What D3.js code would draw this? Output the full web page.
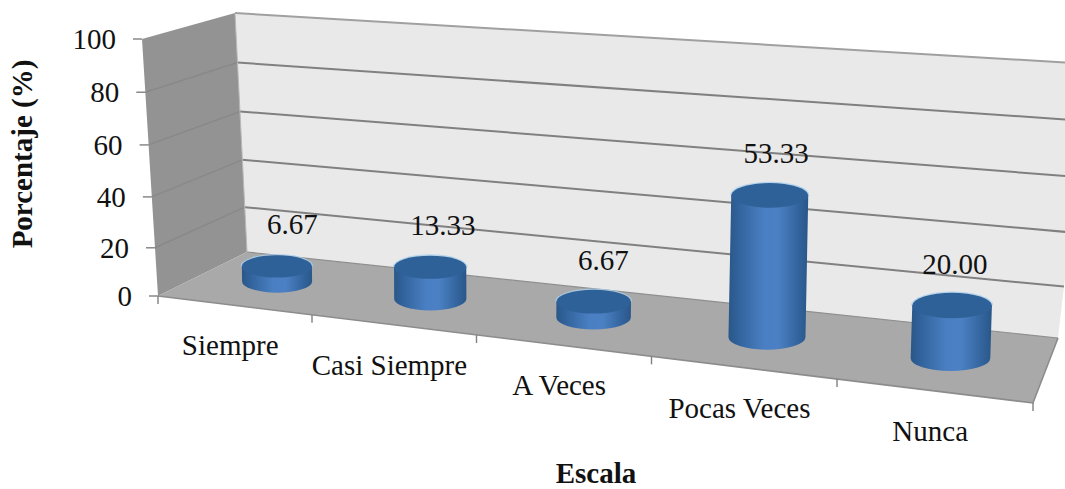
<!DOCTYPE html>
<html>
<head>
<meta charset="utf-8">
<script src="https://cdn.jsdelivr.net/npm/d3@7"></script>
<style>
  html, body { margin: 0; padding: 0; background: #fff; overflow: hidden; }
  svg { display: block; }
  text { font-family: "Liberation Serif", "Times New Roman", serif; fill: #111; font-size: 29px; }
</style>
</head>
<body>
<svg id="chart" width="1065" height="489"></svg>
<script>
// Chart data
const categories = ["Siempre", "Casi Siempre", "A Veces", "Pocas Veces", "Nunca"];
const percentages = [6.67, 13.33, 6.67, 53.33, 20.0];
const percentLabels = ["6.67", "13.33", "6.67", "53.33", "20.00"];
const valueTicks = [0, 20, 40, 60, 80, 100];

const svg = d3.select("#chart");
const nCat = categories.length;

// Corners of the 3D box as they land on screen
const box = {
  frontLeftBottom: [158, 296], frontLeftTop: [142, 39],
  backLeftBottom: [247, 252], backLeftTop: [235, 13],
  frontRightBottom: [1033, 403], frontRightTop: [1060, 105],
  backRightBottom: [1058, 338], backRightTop: [1090, 64]
};

// Normalised scales along the box; the power and the quadratic term give foreshortening
const catLinear = d3.scaleLinear().domain([0, nCat]).range([0, 1]);
const catFraction = c => { const t = catLinear(c); return t * (0.85 + 0.15 * t); };
const valScale = d3.scalePow().exponent(1.04).domain([0, 100]).range([0, 1]);

const mix = (a, b, t) => [a[0] + (b[0] - a[0]) * t, a[1] + (b[1] - a[1]) * t];

// Maps (category position, value, depth) to a screen point by trilinear blending
function project(c, v, depth) {
  const s = catFraction(c), h = valScale(v);
  const fb = mix(box.frontLeftBottom, box.frontRightBottom, s);
  const ft = mix(box.frontLeftTop, box.frontRightTop, s);
  const bb = mix(box.backLeftBottom, box.backRightBottom, s);
  const bt = mix(box.backLeftTop, box.backRightTop, s);
  return mix(mix(fb, ft, h), mix(bb, bt, h), depth);
}

const poly = pts => "M" + pts.map(p => p.join(",")).join("L") + "Z";
const segment = d3.line();

// Gradients
const defs = svg.append("defs");
const sideGrad = defs.append("linearGradient").attr("id", "cylSide")
  .attr("x1", "0%").attr("x2", "100%").attr("y1", "0%").attr("y2", "0%");
[[0, "#2a5788"], [0.12, "#31629b"], [0.45, "#4a80c3"], [0.62, "#4b81c4"], [0.88, "#32639c"], [1, "#2a5788"]]
  .forEach(([o, c]) => sideGrad.append("stop").attr("offset", o).attr("stop-color", c));

// Walls and floor
const walls = svg.append("g");
walls.append("path")
  .attr("d", poly([project(0, 0, 1), project(nCat, 0, 1), project(nCat, 100, 1), project(0, 100, 1)]))
  .attr("fill", "#e9e9e9");
walls.append("path")
  .attr("d", poly([project(0, 0, 0), project(0, 0, 1), project(0, 100, 1), project(0, 100, 0)]))
  .attr("fill", "#939393");
walls.append("path")
  .attr("d", poly([project(0, 0, 0), project(nCat, 0, 0), project(nCat, 0, 1), project(0, 0, 1)]))
  .attr("fill", "#a9a9a9");

// Gridlines on the back and side walls
const gridSteps = valueTicks.filter(v => v > 0);
svg.append("g").selectAll("path").data(gridSteps).join("path")
  .attr("d", v => segment([project(0, v, 1), project(nCat, v, 1)]))
  .attr("stroke", v => v === 100 ? "#a0a0a0" : "#808080")
  .attr("stroke-width", 2).attr("fill", "none");
svg.append("g").selectAll("path").data(gridSteps.filter(v => v < 100)).join("path")
  .attr("d", v => segment([project(0, v, 0), project(0, v, 1)]))
  .attr("stroke", "#898989").attr("stroke-width", 1.5).attr("fill", "none");

// Box edges
svg.append("path")
  .attr("d", segment([project(0, 0, 0), project(nCat, 0, 0), project(nCat, 0, 1)]))
  .attr("fill", "none").attr("stroke", "#8c8c8c").attr("stroke-width", 1.6);
svg.append("path")
  .attr("d", segment([project(0, 0, 1), project(nCat, 0, 1)]))
  .attr("fill", "none").attr("stroke", "#8f8f8f").attr("stroke-width", 1.2);
svg.append("path")
  .attr("d", segment([project(0, 0, 1), project(0, 100, 1)]))
  .attr("fill", "none").attr("stroke", "#b8b8b8").attr("stroke-width", 1);

// Axis ticks
const tickStroke = "#808080";
svg.append("g").selectAll("line").data(valueTicks).join("line")
  .attr("x1", v => project(0, v, 0)[0] - 9).attr("y1", v => project(0, v, 0)[1])
  .attr("x2", v => project(0, v, 0)[0]).attr("y2", v => project(0, v, 0)[1])
  .attr("stroke", tickStroke).attr("stroke-width", 1.4);
svg.append("g").selectAll("line").data(d3.range(nCat + 1)).join("line")
  .attr("x1", i => project(i, 0, 0)[0]).attr("y1", i => project(i, 0, 0)[1])
  .attr("x2", i => project(i, 0, 0)[0]).attr("y2", i => project(i, 0, 0)[1] + 8)
  .attr("stroke", tickStroke).attr("stroke-width", 1.4);

// Cylinders, standing at mid depth of the floor
const depth = 0.52;
const lean = 0.35;
const radiusScale = d3.scaleLinear().domain([0, 1]).range([34.5, 40.5]);
const cylinderTop = (v, i) => {
  const base = project(i + 0.5, 0, depth), top = project(i + 0.5, v, depth);
  return [base[0] + (top[0] - base[0]) * lean, top[1]];
};
svg.append("g").selectAll("g").data(percentages).join("g").each(function (v, i) {
  const g = d3.select(this), c = i + 0.5;
  const base = project(c, 0, depth), top = cylinderTop(v, i);
  const rx = radiusScale(catFraction(c)), ry = rx * 0.32;
  // Soft pale halo along the rim of the cap
  g.append("path")
    .attr("d", `M${top[0] - rx - 0.5},${top[1]}A${rx + 0.5},${ry + 0.5} 0 0 1 ${top[0] + rx + 0.5},${top[1]}`)
    .attr("fill", "none").attr("stroke", "#a9d0ee").attr("stroke-width", 1.6).attr("stroke-opacity", 0.8);
  g.append("path")
    .attr("d", `M${top[0] - rx},${top[1]}L${base[0] - rx},${base[1]}` +
      `A${rx},${ry} 0 0 0 ${base[0] + rx},${base[1]}L${top[0] + rx},${top[1]}Z`)
    .attr("fill", "url(#cylSide)");
  g.append("ellipse")
    .attr("cx", top[0]).attr("cy", top[1]).attr("rx", rx).attr("ry", ry)
    .attr("fill", "#2f6199");
});

// Value labels, drifting closer to the cylinder axis towards the right
svg.append("g").selectAll("text").data(percentages).join("text")
  .attr("x", (v, i) => cylinderTop(v, i)[0] + 17 - 16 * catFraction(i + 0.5))
  .attr("y", (v, i) => cylinderTop(v, i)[1] - 32)
  .attr("text-anchor", "middle")
  .text((v, i) => percentLabels[i]);

// Value-axis labels
svg.append("g").selectAll("text").data(valueTicks).join("text")
  .attr("x", v => project(0, v, 0)[0] - 26)
  .attr("y", v => project(0, v, 0)[1] + 10)
  .attr("text-anchor", "end")
  .text(v => v);

// Category labels
svg.append("g").selectAll("text").data(categories).join("text")
  .attr("x", (d, i) => project(i + 0.5, 0, 0)[0] - 3.5)
  .attr("y", (d, i) => project(i + 0.5, 0, 0)[1] + 50)
  .attr("text-anchor", "middle")
  .text(d => d);

// Axis titles
svg.append("text")
  .attr("transform", "translate(32,154) rotate(-90)")
  .attr("text-anchor", "middle").attr("font-weight", "bold")
  .text("Porcentaje (%)");
svg.append("text")
  .attr("x", 596).attr("y", 482.5)
  .attr("text-anchor", "middle").attr("font-weight", "bold")
  .text("Escala");
</script>
</body>
</html>
